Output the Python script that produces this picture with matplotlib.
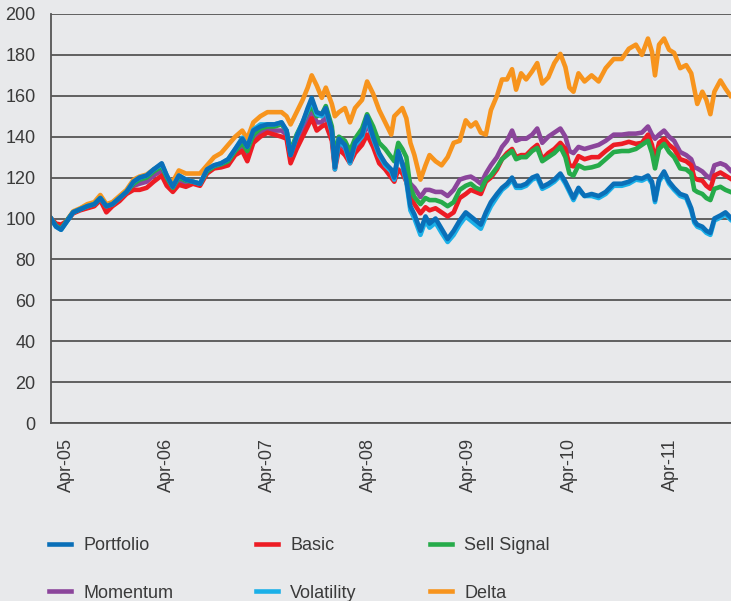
import matplotlib
matplotlib.use("Agg")
import matplotlib.pyplot as plt

# dates as decimal years
dates = [2005.10, 2005.15, 2005.20, 2005.25, 2005.32, 2005.39, 2005.46, 2005.53, 2005.59, 2005.65,
         2005.71, 2005.78, 2005.85, 2005.92, 2005.98, 2006.05, 2006.12, 2006.20, 2006.25, 2006.31,
         2006.37, 2006.44, 2006.51, 2006.58, 2006.65, 2006.72, 2006.79, 2006.86, 2006.93, 2007.00,
         2007.05, 2007.11, 2007.18, 2007.25, 2007.32, 2007.39, 2007.44, 2007.48, 2007.54, 2007.60,
         2007.65, 2007.69, 2007.74, 2007.79, 2007.83, 2007.89, 2007.92, 2007.96, 2008.02, 2008.07,
         2008.12, 2008.19, 2008.24, 2008.30, 2008.36, 2008.42, 2008.48, 2008.51, 2008.55, 2008.59,
         2008.63, 2008.67, 2008.71, 2008.77, 2008.82, 2008.86, 2008.92, 2008.98, 2009.04, 2009.10,
         2009.16, 2009.22, 2009.27, 2009.32, 2009.37, 2009.42, 2009.47, 2009.53, 2009.58, 2009.63,
         2009.68, 2009.72, 2009.77, 2009.82, 2009.88, 2009.93, 2009.98, 2010.04, 2010.10, 2010.16,
         2010.21, 2010.25, 2010.29, 2010.34, 2010.40, 2010.47, 2010.54, 2010.61, 2010.69, 2010.77,
         2010.84, 2010.91, 2010.97, 2011.03, 2011.07, 2011.10, 2011.14, 2011.19, 2011.24, 2011.29,
         2011.35, 2011.41, 2011.46, 2011.49, 2011.52, 2011.57, 2011.61, 2011.65, 2011.69, 2011.75,
         2011.80, 2011.85]

portfolio = [100, 96, 94.5, 98, 103, 104.5, 106, 107, 110, 106,
             107, 110, 113, 118, 120, 121, 124, 127, 121, 115.5,
             121, 119, 118, 117, 124, 126, 127, 129, 134, 139,
             135, 143, 145, 146, 146, 147, 143, 131, 140, 147,
             154, 159, 152, 151, 154, 143, 125, 139, 136, 128,
             137, 141, 150, 140, 132, 127, 124, 120, 133, 127,
             119, 106, 102, 94, 101, 97.5, 100, 95, 90, 94,
             99, 103, 101, 99, 97, 103, 108, 112, 115, 117,
             120, 116, 116, 117, 120, 121, 115.5, 117, 119, 122,
             118, 114, 110, 115, 111, 112, 111, 113, 117, 117,
             118, 120, 119.5, 121, 118, 109, 119, 123, 118, 115,
             112, 111, 105, 99, 97, 96, 94, 93, 100, 101.5,
             103, 100.5]

basic = [100, 97.5, 97, 98.5, 102.5, 104, 105, 106, 109, 103,
         106, 108.5, 112, 114, 114, 115, 118, 121, 116, 113,
         116.5, 115.5, 117, 116, 122, 124.5, 125, 126, 131, 133,
         128, 137, 140, 142, 141, 140, 139, 127, 134, 140,
         145, 149, 143, 145, 146, 138, 124, 134, 131, 127,
         132, 136, 141, 135, 127, 124, 120, 118, 124, 122,
         118, 110.5, 107, 102.5, 105.5, 104, 105, 103, 101, 103,
         110, 112, 114, 113, 112, 118, 120, 124, 129, 132,
         134, 130, 131, 131, 134, 136, 129, 132, 134, 137,
         134, 126, 125.5, 130.5, 129, 130, 130, 133, 136, 136.5,
         137.5, 136.5, 137, 141, 136, 128.5, 137, 139, 136, 134,
         129, 128, 126, 120, 119, 118.5, 116, 114.5, 121, 122.5,
         121, 119.5]

sell_signal = [100, 96.5, 95, 98.5, 103, 104.5, 106, 107, 110, 106,
               107, 110, 113, 117, 119, 120, 123, 125.5, 120, 115,
               120, 118.5, 118, 117, 123, 125.5, 126.5, 128, 133, 137,
               133, 141, 144, 145, 145, 146, 143, 133, 141, 147,
               152, 155, 150, 151, 155, 145, 130, 140, 138, 133,
               139, 144, 151, 145, 137, 134, 130, 128, 137, 134,
               130, 115, 110.5, 107, 110, 109, 109, 108, 106, 108,
               114, 116, 117, 115, 114, 119, 121, 125, 129, 131,
               133, 129, 130, 130, 133, 134.5, 128, 130, 132, 135,
               130, 122, 121, 126, 124.5, 125, 126, 129, 132.5, 133,
               133, 134, 136, 138, 132, 124.5, 134, 136.5, 132.5, 130,
               124.5, 124, 122, 114, 113, 112, 110, 109, 114.5, 115.5,
               114, 113]

momentum = [100, 97, 96, 98.5, 103, 104.5, 105.5, 106.5, 109.5, 105,
            106.5, 109.5, 112.5, 116, 117, 118, 121, 123.5, 118, 114,
            118.5, 117, 117.5, 116.5, 123, 125, 126, 127.5, 132, 135,
            131, 139, 142, 143.5, 143, 143, 141, 129, 137, 143,
            149, 153, 147, 147, 150, 140, 126, 137, 134, 129,
            135, 139, 146, 139, 131, 127, 123, 121, 130, 127,
            123, 117, 115, 110.5, 114, 114, 113, 113, 111, 114,
            119, 120, 120.5, 119, 117, 122, 126, 130, 135, 138,
            143, 138, 139, 139, 141, 144, 137, 140, 142, 144,
            140, 133, 132, 135, 134, 135, 136, 138, 141, 141,
            141.5, 141.5, 142, 145, 141, 139, 141, 143, 140, 138,
            132.5, 131, 129, 125, 124.5, 123, 121, 119.5, 126, 127,
            126, 123.5]

volatility = [100, 96, 94.5, 98, 103, 104.5, 106, 107, 110, 106,
              107, 110, 113, 118, 120, 121, 124, 126.5, 121, 115.5,
              121, 119, 118, 117, 124, 126, 127, 129, 134, 139.5,
              135, 143.5, 146, 146, 146, 147, 143, 131, 140, 147,
              153, 158, 151, 150, 153, 142, 124, 138, 135, 127,
              136, 140, 149, 139, 131, 126, 123, 119, 132, 126,
              118, 104, 100, 92, 99, 95.5, 98, 93, 88.5, 92,
              97, 101, 99, 97, 95, 101, 106, 110.5, 114, 116,
              119, 115, 115, 116, 119, 120, 114.5, 116, 118, 121,
              117, 113, 109, 114, 111, 111, 110, 112, 116, 116,
              117, 119, 118.5, 120, 117, 108, 118, 122, 117, 114,
              111, 110, 104, 98, 96, 95, 93, 92, 99, 100.5,
              102, 99.5]

delta = [100, 96.5, 95, 98.5, 103.5, 105, 107, 108, 111.5, 107,
         108, 111, 114, 119, 120.5, 121.5, 124, 126, 120, 118,
         123.5, 122, 122, 122, 126, 130, 132, 136, 140, 143,
         139, 147, 150, 152, 152, 152, 150, 146, 152, 158,
         164, 170, 165, 159, 164, 156, 150, 152, 154, 147,
         154, 158, 167, 161, 153, 147, 141, 150, 152, 154,
         149, 137, 131, 119, 126, 131, 128, 126, 130, 137,
         138, 148, 145, 147, 142, 141, 153, 160, 168, 168,
         173, 163, 171, 168, 172, 176, 166, 169, 176, 180.5,
         174, 164, 162, 171, 167, 170, 167, 173.5, 178, 178,
         183, 185, 180, 188, 181.5, 170, 185, 188, 182.5, 181,
         173.5, 175, 171, 163.5, 156, 162, 158, 151, 162, 167.5,
         163.5, 160]

tick_years = [2005.25, 2006.25, 2007.25, 2008.25, 2009.25, 2010.25, 2011.25]
tick_labels = ['Apr-05', 'Apr-06', 'Apr-07', 'Apr-08', 'Apr-09', 'Apr-10', 'Apr-11']

bg = '#e8e9eb'
txt = '#3a3a3a'
plt.rcParams['font.family'] = ['Liberation Sans', 'DejaVu Sans']

fig = plt.figure(figsize=(7.31, 6.01), dpi=100, facecolor=bg)
ax = fig.add_axes([51 / 731, 178 / 601, 680 / 731, 409 / 601])
ax.set_facecolor(bg)

lw = 3.3
l_delta, = ax.plot(dates, delta, color='#f7941d', lw=lw)
l_mom, = ax.plot(dates, momentum, color='#8b459b', lw=lw)
l_basic, = ax.plot(dates, basic, color='#ed1c24', lw=lw)
l_sell, = ax.plot(dates, sell_signal, color='#26ab4a', lw=lw)
l_vol, = ax.plot(dates, volatility, color='#1bb0e8', lw=lw)
l_port, = ax.plot(dates, portfolio, color='#0a6fb8', lw=lw)

ax.set_xlim(2005.10, 2011.855)
ax.set_ylim(0, 200)
ax.set_yticks(range(0, 201, 20))
ax.set_xticks(tick_years)
ax.set_xticklabels(tick_labels, rotation=90, va='top')
ax.tick_params(length=0, labelsize=13, labelcolor=txt)
ax.tick_params(axis='y', pad=11)
ax.tick_params(axis='x', pad=11)
ax.yaxis.grid(True, color='#555555', lw=1.3)
ax.set_axisbelow(True)
for s in ['top', 'right']:
    ax.spines[s].set_visible(False)
for s in ['left', 'bottom']:
    ax.spines[s].set_color('#555555')
    ax.spines[s].set_linewidth(1.3)

# legend: three columns placed separately
columns = [([l_port, l_mom], ['Portfolio', 'Momentum'], 49),
           ([l_basic, l_vol], ['Basic', 'Volatility'], 256),
           ([l_sell, l_delta], ['Sell Signal', 'Delta'], 430)]
for handles, labels, xpix in columns:
    fig.legend(handles, labels, loc='upper left',
               bbox_to_anchor=(xpix / 731, 1 - 537 / 601),
               frameon=False, fontsize=13, handlelength=1.2, handletextpad=0.7,
               labelspacing=1.7, borderpad=0, borderaxespad=0, labelcolor=txt)

fig.savefig('out.png', dpi=100, facecolor=bg)
